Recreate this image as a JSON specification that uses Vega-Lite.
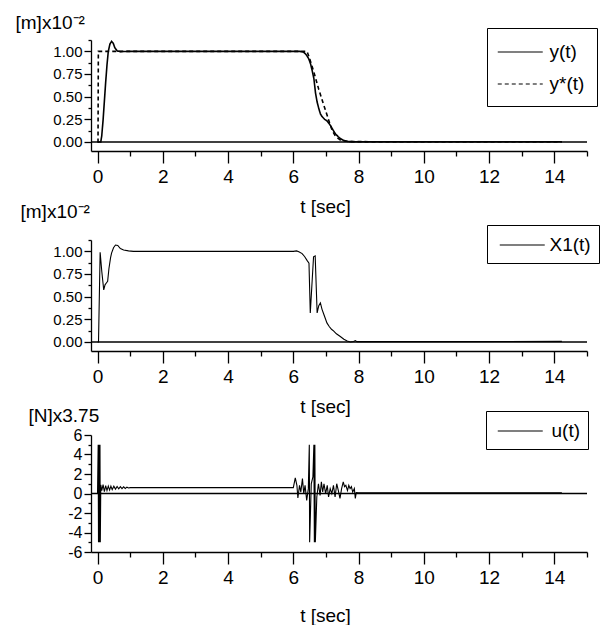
{
 "$schema": "https://vega.github.io/schema/vega-lite/v6.json",
 "padding": {"left": 15, "top": 13, "right": 0, "bottom": 0},
 "bounds": "flush",
 "spacing": 89,
 "config": {
  "font": "Liberation Sans, Arial, sans-serif",
  "view": {"stroke": null},
  "axis": {"grid": false, "domainColor": "#000", "domainWidth": 1.3, "tickColor": "#000", "tickWidth": 1.3, "labelColor": "#000", "titleColor": "#000", "labelFlush": false, "labelOverlap": false, "titleFontWeight": "normal", "labelBound": false, "tickCount": 100},
  "axisX": {"labelPadding": 4, "titleFontSize": 19, "titleAlign": "center", "titleBaseline": "alphabetic", "titleX": 234},
  "axisY": {"labelPadding": 2, "titleFontSize": 19, "titleAngle": 0, "titleAlign": "left", "titleBaseline": "alphabetic"},
  "legend": {"title": null, "orient": "none", "strokeColor": "black", "strokeWidth": 1, "symbolType": "M-2,0H2", "symbolSize": 506, "symbolStrokeWidth": 1.2, "symbolStrokeColor": "black", "labelFontSize": 19, "labelColor": "black", "rowPadding": 10}
 },
 "datasets": {
  "p1": [
   {"t":0,"v":0,"s":"y(t)"},{"t":0.1,"v":0,"s":"y(t)"},{"t":0.13,"v":0.07,"s":"y(t)"},{"t":0.17,"v":0.24,"s":"y(t)"},{"t":0.21,"v":0.45,"s":"y(t)"},{"t":0.25,"v":0.66,"s":"y(t)"},{"t":0.29,"v":0.85,"s":"y(t)"},{"t":0.33,"v":1.0,"s":"y(t)"},{"t":0.38,"v":1.08,"s":"y(t)"},{"t":0.43,"v":1.11,"s":"y(t)"},{"t":0.48,"v":1.09,"s":"y(t)"},{"t":0.53,"v":1.04,"s":"y(t)"},{"t":0.6,"v":1.005,"s":"y(t)"},{"t":0.7,"v":0.997,"s":"y(t)"},{"t":1.0,"v":1.0,"s":"y(t)"},{"t":6.2,"v":1.0,"s":"y(t)"},{"t":6.32,"v":0.99,"s":"y(t)"},{"t":6.4,"v":0.96,"s":"y(t)"},{"t":6.47,"v":0.92,"s":"y(t)"},{"t":6.53,"v":0.86,"s":"y(t)"},{"t":6.57,"v":0.8,"s":"y(t)"},{"t":6.63,"v":0.7,"s":"y(t)"},{"t":6.68,"v":0.54,"s":"y(t)"},{"t":6.73,"v":0.44,"s":"y(t)"},{"t":6.78,"v":0.37,"s":"y(t)"},{"t":6.83,"v":0.31,"s":"y(t)"},{"t":6.88,"v":0.28,"s":"y(t)"},{"t":6.96,"v":0.25,"s":"y(t)"},{"t":7.04,"v":0.23,"s":"y(t)"},{"t":7.14,"v":0.18,"s":"y(t)"},{"t":7.22,"v":0.13,"s":"y(t)"},{"t":7.29,"v":0.09,"s":"y(t)"},{"t":7.37,"v":0.06,"s":"y(t)"},{"t":7.45,"v":0.035,"s":"y(t)"},{"t":7.55,"v":0.015,"s":"y(t)"},{"t":7.7,"v":0.004,"s":"y(t)"},{"t":7.9,"v":0.002,"s":"y(t)"},{"t":14.23,"v":0.002,"s":"y(t)"},
   {"t":0,"v":0,"s":"y*(t)"},{"t":0.015,"v":0,"s":"y*(t)"},{"t":0.025,"v":1.0,"s":"y*(t)"},{"t":6.42,"v":1.0,"s":"y*(t)"},{"t":6.5,"v":0.92,"s":"y*(t)"},{"t":6.63,"v":0.77,"s":"y*(t)"},{"t":6.78,"v":0.58,"s":"y*(t)"},{"t":6.93,"v":0.41,"s":"y*(t)"},{"t":7.04,"v":0.29,"s":"y*(t)"},{"t":7.12,"v":0.2,"s":"y*(t)"},{"t":7.2,"v":0.12,"s":"y*(t)"},{"t":7.3,"v":0.06,"s":"y*(t)"},{"t":7.45,"v":0.02,"s":"y*(t)"},{"t":7.7,"v":0.003,"s":"y*(t)"},{"t":14.23,"v":0.002,"s":"y*(t)"}
  ],
  "p2": [
   {"t":0,"v":0,"s":"X1(t)"},{"t":0.03,"v":0,"s":"X1(t)"},{"t":0.08,"v":0.99,"s":"X1(t)"},{"t":0.13,"v":0.78,"s":"X1(t)"},{"t":0.19,"v":0.575,"s":"X1(t)"},{"t":0.23,"v":0.63,"s":"X1(t)"},{"t":0.27,"v":0.65,"s":"X1(t)"},{"t":0.31,"v":0.67,"s":"X1(t)"},{"t":0.35,"v":0.81,"s":"X1(t)"},{"t":0.4,"v":0.93,"s":"X1(t)"},{"t":0.43,"v":0.98,"s":"X1(t)"},{"t":0.49,"v":1.04,"s":"X1(t)"},{"t":0.55,"v":1.07,"s":"X1(t)"},{"t":0.62,"v":1.065,"s":"X1(t)"},{"t":0.7,"v":1.03,"s":"X1(t)"},{"t":0.8,"v":1.015,"s":"X1(t)"},{"t":0.95,"v":1.005,"s":"X1(t)"},{"t":1.1,"v":1.0,"s":"X1(t)"},{"t":6.0,"v":1.0,"s":"X1(t)"},{"t":6.1,"v":1.005,"s":"X1(t)"},{"t":6.17,"v":0.995,"s":"X1(t)"},{"t":6.27,"v":0.975,"s":"X1(t)"},{"t":6.35,"v":0.94,"s":"X1(t)"},{"t":6.42,"v":0.9,"s":"X1(t)"},{"t":6.48,"v":0.87,"s":"X1(t)"},{"t":6.52,"v":0.32,"s":"X1(t)"},{"t":6.62,"v":0.94,"s":"X1(t)"},{"t":6.67,"v":0.95,"s":"X1(t)"},{"t":6.73,"v":0.32,"s":"X1(t)"},{"t":6.78,"v":0.4,"s":"X1(t)"},{"t":6.83,"v":0.43,"s":"X1(t)"},{"t":6.88,"v":0.36,"s":"X1(t)"},{"t":6.92,"v":0.32,"s":"X1(t)"},{"t":6.97,"v":0.27,"s":"X1(t)"},{"t":7.03,"v":0.21,"s":"X1(t)"},{"t":7.1,"v":0.17,"s":"X1(t)"},{"t":7.17,"v":0.14,"s":"X1(t)"},{"t":7.24,"v":0.12,"s":"X1(t)"},{"t":7.32,"v":0.09,"s":"X1(t)"},{"t":7.44,"v":0.06,"s":"X1(t)"},{"t":7.55,"v":0.03,"s":"X1(t)"},{"t":7.65,"v":0.01,"s":"X1(t)"},{"t":7.75,"v":0.0,"s":"X1(t)"},{"t":7.85,"v":0.004,"s":"X1(t)"},{"t":7.9,"v":0.015,"s":"X1(t)"},{"t":7.95,"v":0.003,"s":"X1(t)"},{"t":14.23,"v":0.006,"s":"X1(t)"}
  ],
  "p3": [
   {"t":0,"v":0,"s":"u(t)"},{"t":0.02,"v":5,"s":"u(t)"},{"t":0.03,"v":-5,"s":"u(t)"},{"t":0.045,"v":5,"s":"u(t)"},{"t":0.06,"v":-5,"s":"u(t)"},{"t":0.075,"v":5,"s":"u(t)"},{"t":0.085,"v":-5,"s":"u(t)"},
   {"t":0.1,"v":0.9,"s":"u(t)"},{"t":0.13,"v":0.3,"s":"u(t)"},{"t":0.17,"v":0.9,"s":"u(t)"},{"t":0.21,"v":0.2,"s":"u(t)"},{"t":0.25,"v":0.8,"s":"u(t)"},{"t":0.29,"v":0.3,"s":"u(t)"},{"t":0.33,"v":0.75,"s":"u(t)"},{"t":0.37,"v":0.35,"s":"u(t)"},{"t":0.41,"v":0.75,"s":"u(t)"},{"t":0.45,"v":0.4,"s":"u(t)"},{"t":0.5,"v":0.75,"s":"u(t)"},{"t":0.55,"v":0.45,"s":"u(t)"},{"t":0.6,"v":0.72,"s":"u(t)"},{"t":0.65,"v":0.48,"s":"u(t)"},{"t":0.7,"v":0.7,"s":"u(t)"},{"t":0.75,"v":0.5,"s":"u(t)"},{"t":0.8,"v":0.68,"s":"u(t)"},{"t":0.85,"v":0.52,"s":"u(t)"},{"t":0.9,"v":0.65,"s":"u(t)"},{"t":0.95,"v":0.56,"s":"u(t)"},{"t":1.0,"v":0.6,"s":"u(t)"},{"t":6.0,"v":0.6,"s":"u(t)"},
   {"t":6.06,"v":1.6,"s":"u(t)"},{"t":6.11,"v":0.84,"s":"u(t)"},{"t":6.14,"v":-0.46,"s":"u(t)"},{"t":6.19,"v":0.84,"s":"u(t)"},{"t":6.23,"v":0.15,"s":"u(t)"},{"t":6.28,"v":1.53,"s":"u(t)"},{"t":6.32,"v":-0.02,"s":"u(t)"},{"t":6.36,"v":0.84,"s":"u(t)"},{"t":6.41,"v":-0.7,"s":"u(t)"},{"t":6.46,"v":0.5,"s":"u(t)"},{"t":6.49,"v":5,"s":"u(t)"},{"t":6.5,"v":-5,"s":"u(t)"},{"t":6.55,"v":1.0,"s":"u(t)"},{"t":6.6,"v":1.7,"s":"u(t)"},{"t":6.63,"v":5,"s":"u(t)"},{"t":6.645,"v":-5,"s":"u(t)"},{"t":6.66,"v":5,"s":"u(t)"},{"t":6.675,"v":-5,"s":"u(t)"},{"t":6.72,"v":-0.36,"s":"u(t)"},{"t":6.77,"v":1.0,"s":"u(t)"},{"t":6.82,"v":-0.2,"s":"u(t)"},{"t":6.86,"v":1.2,"s":"u(t)"},{"t":6.9,"v":0.15,"s":"u(t)"},{"t":6.94,"v":1.0,"s":"u(t)"},{"t":6.99,"v":-0.02,"s":"u(t)"},{"t":7.04,"v":0.84,"s":"u(t)"},{"t":7.08,"v":-0.36,"s":"u(t)"},{"t":7.13,"v":0.5,"s":"u(t)"},{"t":7.18,"v":0,"s":"u(t)"},{"t":7.23,"v":0.84,"s":"u(t)"},{"t":7.28,"v":-0.36,"s":"u(t)"},{"t":7.33,"v":1.0,"s":"u(t)"},{"t":7.38,"v":0.3,"s":"u(t)"},{"t":7.43,"v":-0.5,"s":"u(t)"},{"t":7.48,"v":0.5,"s":"u(t)"},{"t":7.53,"v":1.2,"s":"u(t)"},{"t":7.57,"v":0.7,"s":"u(t)"},{"t":7.61,"v":0.84,"s":"u(t)"},{"t":7.66,"v":0.3,"s":"u(t)"},{"t":7.7,"v":0.84,"s":"u(t)"},{"t":7.74,"v":0.5,"s":"u(t)"},{"t":7.78,"v":0.7,"s":"u(t)"},{"t":7.82,"v":0.15,"s":"u(t)"},{"t":7.87,"v":0.5,"s":"u(t)"},{"t":7.9,"v":-0.5,"s":"u(t)"},{"t":7.93,"v":0.1,"s":"u(t)"},{"t":8.0,"v":0.08,"s":"u(t)"},{"t":14.23,"v":0.08,"s":"u(t)"}
  ]
 },
 "resolve": {"scale": {"stroke": "independent", "strokeDash": "independent"}, "legend": {"stroke": "independent", "strokeDash": "independent"}},
 "vconcat": [
  {
   "width": 496, "height": 111,
   "layer": [
    {"data": {"name": "p1"}, "mark": {"type": "line", "color": "black", "strokeWidth": 1.6},
     "encoding": {
      "x": {"field": "t", "type": "quantitative", "scale": {"domain": [-0.2, 15], "nice": false, "zero": false},
            "axis": {"title": "t [sec]", "titleY": 61, "tickCount": 100, "labelOverlap": false, "values": [0,1,2,3,4,5,6,7,8,9,10,11,12,13,14,15], "labelExpr": "datum.value % 2 === 0 ? '' + datum.value : ''", "labelFontSize": {"condition": {"test": "datum.value % 2 !== 0", "value": 0}, "value": 19}, "tickSize": {"condition": {"test": "datum.value % 2 !== 0", "value": 5}, "value": 12}}},
      "y": {"field": "v", "type": "quantitative", "scale": {"domain": [-0.1, 1.125], "nice": false, "zero": false},
            "axis": {"title": "[m]x10⁻²", "titleX": -76, "titleY": -12, "tickCount": 100, "labelOverlap": false, "values": [0,0.125,0.25,0.375,0.5,0.625,0.75,0.875,1,1.125], "labelExpr": "datum.value % 0.25 === 0 ? format(datum.value, '.2f') : ''", "labelFontSize": {"condition": {"test": "datum.value % 0.25 !== 0", "value": 0}, "value": 15}, "tickSize": {"condition": {"test": "datum.value % 0.25 !== 0", "value": 3}, "value": 7}}},
      "strokeDash": {"field": "s", "type": "nominal", "scale": {"domain": ["y(t)", "y*(t)"], "range": [[1, 0], [4, 3]]},
            "legend": {"legendX": 396, "legendY": -12, "padding": 12, "symbolOffset": 9.25, "labelOffset": 17.25}}
     }},
    {"data": {"values": [{}]}, "mark": {"type": "rule", "color": "black", "strokeWidth": 1.4}, "encoding": {"y": {"datum": 0, "type": "quantitative"}}}
   ]
  },
  {
   "bounds": "flush",
   "spacing": 84,
   "resolve": {"scale": {"stroke": "independent"}, "legend": {"stroke": "independent"}},
   "vconcat": [
    {
     "width": 496, "height": 111,
     "layer": [
      {"data": {"name": "p2"}, "mark": {"type": "line", "strokeWidth": 1.1},
       "encoding": {
        "x": {"field": "t", "type": "quantitative", "scale": {"domain": [-0.2, 15], "nice": false, "zero": false},
              "axis": {"title": "t [sec]", "titleY": 61, "tickCount": 100, "labelOverlap": false, "values": [0,1,2,3,4,5,6,7,8,9,10,11,12,13,14,15], "labelExpr": "datum.value % 2 === 0 ? '' + datum.value : ''", "labelFontSize": {"condition": {"test": "datum.value % 2 !== 0", "value": 0}, "value": 19}, "tickSize": {"condition": {"test": "datum.value % 2 !== 0", "value": 5}, "value": 12}}},
        "y": {"field": "v", "type": "quantitative", "scale": {"domain": [-0.1, 1.125], "nice": false, "zero": false},
              "axis": {"title": "[m]x10⁻²", "titleX": -71, "titleY": -23, "tickCount": 100, "labelOverlap": false, "values": [0,0.125,0.25,0.375,0.5,0.625,0.75,0.875,1,1.125], "labelExpr": "datum.value % 0.25 === 0 ? format(datum.value, '.2f') : ''", "labelFontSize": {"condition": {"test": "datum.value % 0.25 !== 0", "value": 0}, "value": 15}, "tickSize": {"condition": {"test": "datum.value % 0.25 !== 0", "value": 3}, "value": 7}}},
        "stroke": {"field": "s", "type": "nominal", "scale": {"range": ["black"]},
              "legend": {"legendX": 396, "legendY": -15, "padding": 8, "symbolOffset": 15.25, "labelOffset": 15.25}}
       }},
      {"data": {"values": [{}]}, "mark": {"type": "rule", "color": "black", "strokeWidth": 1.4}, "encoding": {"y": {"datum": 0, "type": "quantitative"}}}
     ]
    },
    {
     "width": 496, "height": 117,
     "layer": [
      {"data": {"name": "p3"}, "mark": {"type": "line", "strokeWidth": 1.1},
       "encoding": {
        "x": {"field": "t", "type": "quantitative", "scale": {"domain": [-0.2, 15], "nice": false, "zero": false},
              "axis": {"title": "t [sec]", "titleY": 69, "tickCount": 100, "labelOverlap": false, "values": [0,1,2,3,4,5,6,7,8,9,10,11,12,13,14,15], "labelExpr": "datum.value % 2 === 0 ? '' + datum.value : ''", "labelFontSize": {"condition": {"test": "datum.value % 2 !== 0", "value": 0}, "value": 19}, "tickSize": {"condition": {"test": "datum.value % 2 !== 0", "value": 5}, "value": 12}}},
        "y": {"field": "v", "type": "quantitative", "scale": {"domain": [-6, 6], "nice": false, "zero": false},
              "axis": {"title": "[N]x3.75", "titleX": -63, "titleY": -14, "tickCount": 100, "labelOverlap": false, "values": [-6,-5,-4,-3,-2,-1,0,1,2,3,4,5,6], "labelExpr": "datum.value % 2 === 0 ? '' + datum.value : ''", "labelFontSize": {"condition": {"test": "datum.value % 2 !== 0", "value": 0}, "value": 16}, "tickSize": {"condition": {"test": "datum.value % 2 !== 0", "value": 3}, "value": 7}}},
        "stroke": {"field": "s", "type": "nominal", "scale": {"range": ["black"]},
              "legend": {"legendX": 395, "legendY": -24, "padding": 8, "symbolOffset": 14.25, "labelOffset": 19.25}}
       }},
      {"data": {"values": [{}]}, "mark": {"type": "rule", "color": "black", "strokeWidth": 1.4}, "encoding": {"y": {"datum": 0, "type": "quantitative"}}}
     ]
    }
   ]
  }
 ]
}
